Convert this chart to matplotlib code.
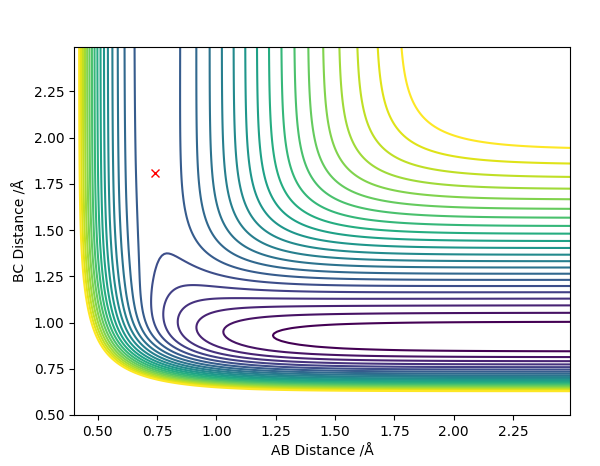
import numpy as np
import matplotlib
matplotlib.use('Agg')
import matplotlib.pyplot as plt

''' Superficie LEPS para H-H-F colineal (A=H, B=H, C=F) '''

# Parametros de Morse [eV, 1/A, A] y parametro de Sato
D_HH, beta_HH, r0_HH = 4.746, 1.942, 0.742
D_HF, beta_HF, r0_HF = 6.122, 2.219, 0.917
k_sato = 0.18

# grilla de distancias [A]
r_AB = np.arange(0.40, 2.50, 0.01)
r_BC = np.arange(0.50, 2.49, 0.01)

# niveles de contorno [eV]
niveles = -5.93 + 0.225*np.arange(22)

# estado de transicion (AB, BC)
x_ts, y_ts = 0.74, 1.81


def coulomb(r, D, beta, r0, k):
    e1 = np.exp(-beta*(r - r0))
    return D/4*((3 + k)*e1**2 - (2 + 6*k)*e1)/(1 + k)


def intercambio(r, D, beta, r0, k):
    e1 = np.exp(-beta*(r - r0))
    return D/4*((1 + 3*k)*e1**2 - (6 + 2*k)*e1)/(1 + k)


def LEPS(rab, rbc):
    rac = rab + rbc
    Qab = coulomb(rab, D_HH, beta_HH, r0_HH, k_sato)
    Qbc = coulomb(rbc, D_HF, beta_HF, r0_HF, k_sato)
    Qac = coulomb(rac, D_HF, beta_HF, r0_HF, k_sato)
    Jab = intercambio(rab, D_HH, beta_HH, r0_HH, k_sato)
    Jbc = intercambio(rbc, D_HF, beta_HF, r0_HF, k_sato)
    Jac = intercambio(rac, D_HF, beta_HF, r0_HF, k_sato)
    raiz = np.sqrt(0.5*((Jab - Jbc)**2 + (Jbc - Jac)**2 + (Jac - Jab)**2))
    return Qab + Qbc + Qac - raiz


X, Y = np.meshgrid(r_AB, r_BC)
V = LEPS(X, Y)

fig = plt.figure(figsize=(6.0, 4.66), dpi=100)
ax = fig.add_axes([74/600, 51/466, 496/600, 368/466])
ax.contour(X, Y, V, levels=niveles, cmap='viridis')
ax.plot(x_ts, y_ts, 'rx')
ax.set_xlabel('AB Distance /Å')
ax.set_ylabel('BC Distance /Å')
fig.savefig('out.png', dpi=100)
